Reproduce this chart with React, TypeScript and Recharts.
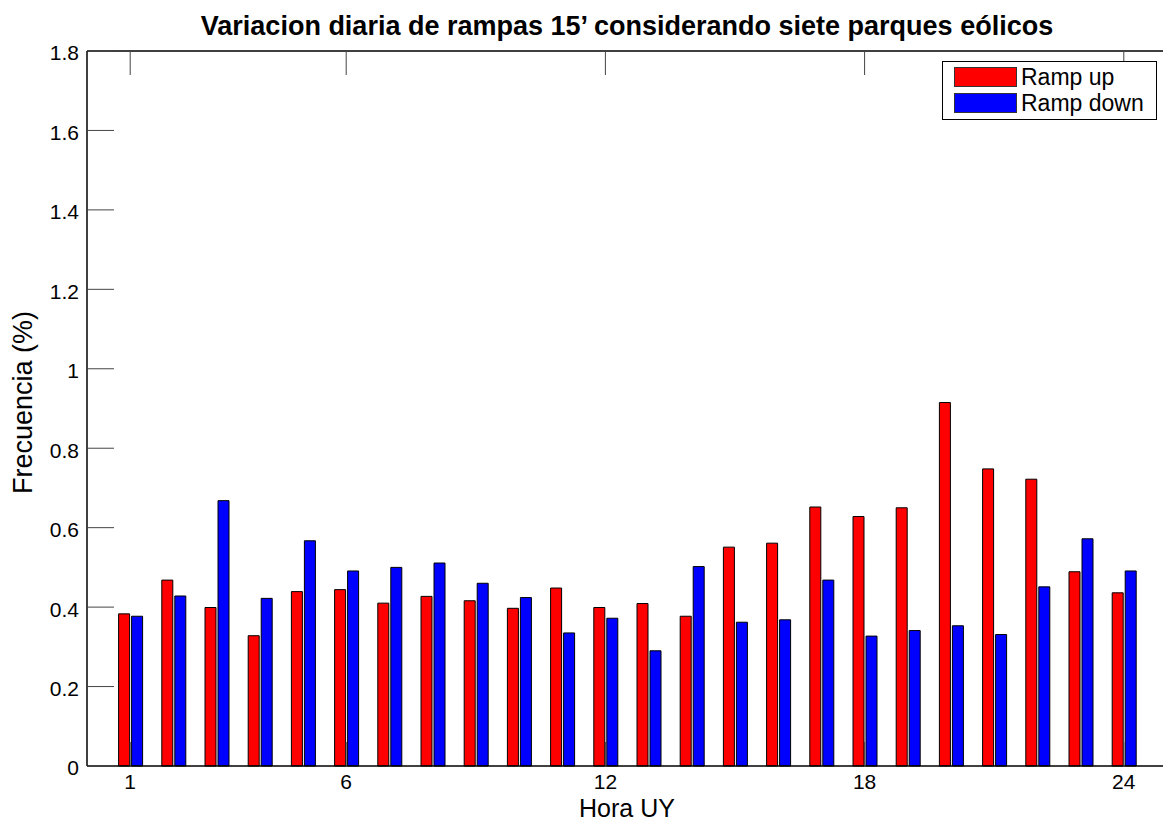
import React from "react";
import { BarChart, Bar, XAxis, YAxis, Legend } from "recharts";

// Hora UY 1..24
const HORAS = [1, 2, 3, 4, 5, 6, 7, 8, 9, 10, 11, 12, 13, 14, 15, 16, 17, 18, 19, 20, 21, 22, 23, 24];
const RAMP_UP = [
  0.383, 0.468, 0.399, 0.328, 0.439, 0.444, 0.41, 0.427, 0.416, 0.397, 0.448, 0.399,
  0.409, 0.377, 0.551, 0.561, 0.652, 0.628, 0.65, 0.915, 0.748, 0.722, 0.489, 0.436,
];
const RAMP_DOWN = [
  0.377, 0.428, 0.668, 0.422, 0.567, 0.491, 0.5, 0.511, 0.46, 0.424, 0.335, 0.372,
  0.29, 0.502, 0.362, 0.368, 0.468, 0.327, 0.341, 0.353, 0.331, 0.451, 0.572, 0.491,
];
const SERIES_NAMES = ["Ramp up", "Ramp down"];
const X_TICKS = [1, 6, 12, 18, 24];
const Y_TICKS = [0, 0.2, 0.4, 0.6, 0.8, 1, 1.2, 1.4, 1.6, 1.8];

const TITLE = "Variacion diaria de rampas 15’ considerando siete parques eólicos";
const FONT = "'Liberation Sans', Arial, Helvetica, sans-serif";

const data = HORAS.map((h, i) => ({ hora: h, up: RAMP_UP[i], down: RAMP_DOWN[i] }));

const tickLine = { stroke: "#444", strokeWidth: 1 };
const axisLine = { stroke: "#000", strokeWidth: 1.5 };
const tickText = { fontSize: 21, fill: "#000", fontFamily: FONT };

function TitleLabel(props: any) {
  const vb = props.viewBox || { x: 87, width: 1080 };
  return (
    <text x={vb.x + vb.width / 2} y={35} textAnchor="middle" fontFamily={FONT} fontSize={27} fontWeight="bold" fill="#000">
      {TITLE}
    </text>
  );
}

function XLabel(props: any) {
  const vb = props.viewBox || { x: 87, y: 766, width: 1080 };
  return (
    <text x={vb.x + vb.width / 2} y={vb.y + 50.5} textAnchor="middle" fontFamily={FONT} fontSize={25} fill="#000">
      Hora UY
    </text>
  );
}

function YLabel(props: any) {
  const vb = props.viewBox || { y: 51, height: 715 };
  const cy = vb.y + vb.height / 2 - 6;
  return (
    <text transform={`translate(31.5, ${cy}) rotate(-90)`} textAnchor="middle" fontFamily={FONT} fontSize={27} fill="#000">
      Frecuencia (%)
    </text>
  );
}

function LegendBox({ payload }: any) {
  const items = [...(payload || [])].sort(
    (a: any, b: any) => SERIES_NAMES.indexOf(a.value) - SERIES_NAMES.indexOf(b.value)
  );
  return (
    <div
      style={{
        position: "relative",
        boxSizing: "border-box",
        width: 215,
        height: 59,
        border: "1px solid #000",
        background: "#fff",
        fontFamily: FONT,
        fontSize: 23,
        color: "#000",
      }}
    >
      {items.map((p: any, i: number) => (
        <React.Fragment key={p.value}>
          <div
            style={{
              position: "absolute",
              boxSizing: "border-box",
              left: 11,
              top: 5 + i * 26,
              width: 63,
              height: 20,
              background: p.color,
              border: "1px solid #333",
            }}
          />
          <div style={{ position: "absolute", left: 78, top: 5 + i * 26, lineHeight: "20px", whiteSpace: "nowrap" }}>
            {p.value}
          </div>
        </React.Fragment>
      ))}
    </div>
  );
}

export default function App() {
  return (
    <div style={{ position: "absolute", left: 0, top: 0, width: 1163, height: 821, overflow: "hidden", background: "#fff" }}>
      <BarChart width={1200} height={821} data={data} margin={{ top: 50, right: 32, bottom: 0, left: 0 }} barGap={2}>
        <XAxis
          dataKey="hora"
          height={55}
          padding={{ left: 21.6, right: 21.6 }}
          ticks={X_TICKS}
          interval={0}
          tickSize={-24}
          tickMargin={32}
          tick={tickText}
          axisLine={axisLine}
          tickLine={tickLine}
          label={XLabel}
        />
        <XAxis
          xAxisId="top"
          orientation="top"
          dataKey="hora"
          height={1}
          padding={{ left: 21.6, right: 21.6 }}
          ticks={X_TICKS}
          interval={0}
          tickSize={-24}
          tickFormatter={() => ""}
          axisLine={axisLine}
          tickLine={tickLine}
          label={TitleLabel}
        />
        <YAxis
          width={87}
          type="number"
          domain={[0, 1.8]}
          ticks={Y_TICKS}
          interval={0}
          tickSize={-27}
          tickMargin={35}
          tick={{ ...tickText, dy: 2 }}
          axisLine={axisLine}
          tickLine={tickLine}
          label={YLabel}
        />
        <YAxis
          yAxisId="right"
          orientation="right"
          width={1}
          type="number"
          domain={[0, 1.8]}
          ticks={Y_TICKS}
          interval={0}
          tickSize={-27}
          tickFormatter={() => ""}
          axisLine={axisLine}
          tickLine={tickLine}
        />
        <Legend
          verticalAlign="middle"
          align="center"
          layout="horizontal"
          content={LegendBox}
          wrapperStyle={{ top: 61, left: 942, width: 215, height: 59 }}
        />
        <Bar dataKey="up" name="Ramp up" fill="#ff0000" stroke="#000" strokeWidth={1} barSize={11} isAnimationActive={false} />
        <Bar dataKey="down" name="Ramp down" fill="#0000ff" stroke="#000" strokeWidth={1} barSize={11} isAnimationActive={false} />
      </BarChart>
    </div>
  );
}
